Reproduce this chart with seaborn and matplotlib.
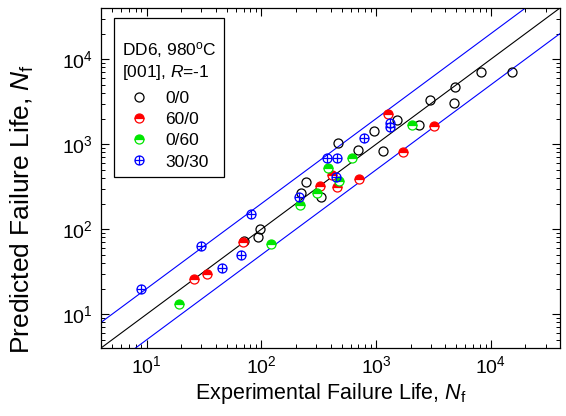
import numpy as np
import pandas as pd
import matplotlib
matplotlib.use("Agg")
import matplotlib.pyplot as plt
import seaborn as sns
from matplotlib.path import Path
from matplotlib.offsetbox import DrawingArea

# ---- data (experimental life, predicted life) ----
exp_00 = [70, 93, 97, 221, 245, 331, 465, 695, 957, 1150, 1520, 2360, 2950, 4770, 4860, 8200, 15300]
pred_00 = [73, 81, 100, 267, 359, 239, 1030, 855, 1430, 830, 1920, 1680, 3300, 3050, 4700, 7060, 7060]

exp_600 = [26, 33.5, 69, 324, 412, 456, 709, 1270, 1710, 3190]
pred_600 = [26, 30, 71, 322, 434, 313, 389, 2260, 810, 1640]

exp_060 = [19, 121, 217, 305, 380, 474, 616, 2050]
pred_060 = [13, 67, 192, 267, 524, 369, 688, 1680]

exp_3030 = [8.9, 30, 45, 66, 81, 212, 373, 447, 456, 783, 1320, 1320]
pred_3030 = [19.8, 63, 35, 50, 151, 239, 688, 411, 688, 1180, 1770, 1590]

series_labels = ["0/0", "60/0", "0/60", "30/30"]
axis_limits = [4, 4e4]
band_factor = 2
legend_title = "DD6, 980$^\\mathrm{o}$C\n[001], $R$=-1"
xlabel = "Experimental Failure Life, $N_\\mathrm{f}$"
ylabel = "Predicted Failure Life, $N_\\mathrm{f}$"

# ---- style ----
sns.set_theme(style="ticks")
plt.rcParams.update({
    "font.family": ["Liberation Sans", "DejaVu Sans"],
    "mathtext.fontset": "custom",
    "mathtext.rm": "Liberation Sans",
    "mathtext.it": "Liberation Sans:italic",
    "mathtext.bf": "Liberation Sans:bold",
    "axes.edgecolor": "black",
    "axes.linewidth": 0.9,
    "text.color": "black",
    "axes.labelcolor": "black",
    "xtick.color": "black",
    "ytick.color": "black",
    "xtick.direction": "in",
    "ytick.direction": "in",
})

fig = plt.figure(figsize=(5.66, 4.16), dpi=100)
ax = fig.add_axes([101 / 566, 68 / 416, 459 / 566, 340 / 416])
ax.set_xscale("log")
ax.set_yscale("log")

# reference lines: 1:1 and factor-of-2 band
for f, c in [(1, "black"), (band_factor, "blue"), (1 / band_factor, "blue")]:
    sns.lineplot(x=axis_limits, y=[v * f for v in axis_limits], color=c,
                 linewidth=0.8, ax=ax, legend=False, estimator=None, sort=False)

# crossed-circle marker
circ = Path.unit_circle()
cross = Path.make_compound_path(
    circ,
    Path([[-1, 0], [1, 0]], [Path.MOVETO, Path.LINETO]),
    Path([[0, -1], [0, 1]], [Path.MOVETO, Path.LINETO]),
)

green = "#00e600"
styles = [
    dict(marker="o", markerfacecolor="none", markeredgecolor="black", color="black"),
    dict(marker="o", fillstyle="top", markerfacecolor="#ff0000", markerfacecoloralt="white",
         markeredgecolor="#ff0000", color="#ff0000"),
    dict(marker="o", fillstyle="top", markerfacecolor=green, markerfacecoloralt="white",
         markeredgecolor=green, color=green),
    dict(marker=cross, markerfacecolor="none", markeredgecolor="blue", color="blue"),
]
datasets = [(exp_00, pred_00), (exp_600, pred_600), (exp_060, pred_060), (exp_3030, pred_3030)]

handles = []
for (xs, ys), st, lab in zip(datasets, styles, series_labels):
    n_before = len(ax.lines)
    sns.lineplot(x=xs, y=ys, ax=ax, estimator=None, sort=False, linestyle="none",
                 markersize=6.5, markeredgewidth=0.9, legend=False, **st)
    handles.append(ax.lines[n_before])

ax.set_xlim(axis_limits)
ax.set_ylim(axis_limits)
ax.tick_params(which="both", top=True, right=True, direction="in")
ax.tick_params(which="major", length=5.5, width=0.8, labelsize=14)
ax.tick_params(axis="x", which="major", pad=5)
ax.tick_params(axis="y", which="major", pad=6)
ax.tick_params(which="minor", length=3, width=0.7)
ax.set_xlabel(xlabel, fontsize=15.5, labelpad=3)
ax.set_ylabel(ylabel, fontsize=19)
ax.yaxis.set_label_coords(-0.142, 0.41)
for s in ax.spines.values():
    s.set_visible(True)
    s.set_linewidth(0.9)

leg = ax.legend(handles, series_labels, title=legend_title, alignment="left",
                loc="upper left", bbox_to_anchor=(0.028, 0.97), borderaxespad=0,
                frameon=True, fancybox=False, edgecolor="black", framealpha=1,
                fontsize=12.5, title_fontsize=12.5, handletextpad=0.55,
                handlelength=1.95, labelspacing=0.35, borderpad=0.45)
leg.get_frame().set_linewidth(0.9)
# custom vertical spacing inside the legend box (top padding, title-to-entries gap)
box = leg._legend_box
box.sep = 0
title_box, handle_box = box._children[0], box._children[1]
box._children[:] = [DrawingArea(1, 10), title_box, DrawingArea(1, 6.5), handle_box]

fig.savefig("out.png", dpi=100)
